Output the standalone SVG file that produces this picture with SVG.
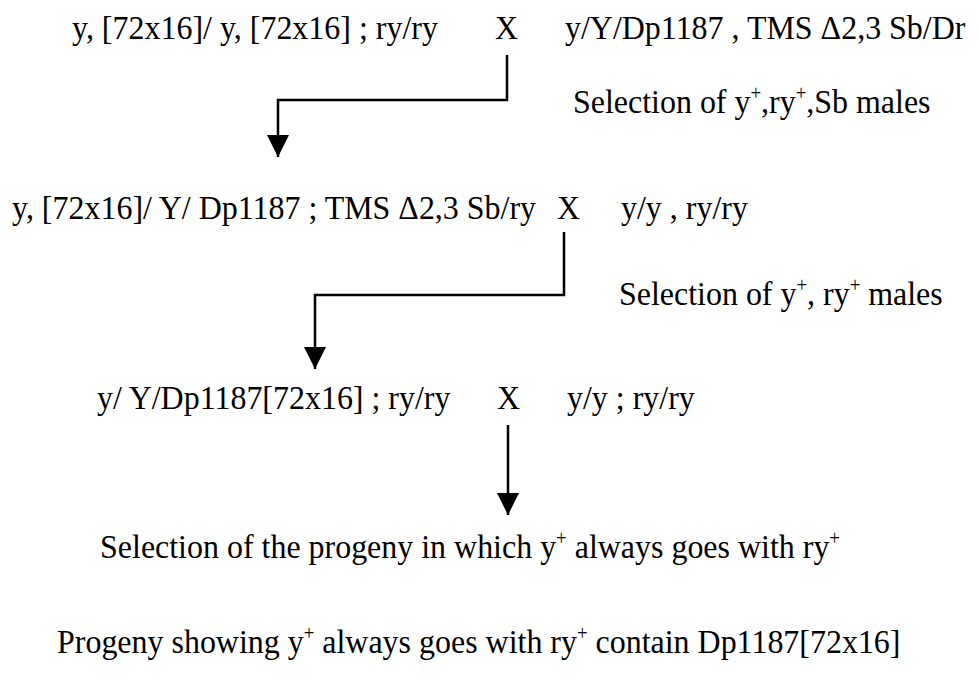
<svg xmlns="http://www.w3.org/2000/svg" width="978" height="681" viewBox="0 0 978 681">
  <style>
    /* tall, slightly narrow Times-style lettering: 34px glyphs squeezed to 94% width */
    .t { font-family: "Liberation Serif", "Times New Roman", serif; font-size: 34px; fill: #000; }
    .sup { font-size: 20px; }
    .wire { fill: none; stroke: #000; stroke-width: 2.5; }
  </style>
  <defs>
    <!-- solid downward arrowhead; its tip sits on the path end -->
    <marker id="head" viewBox="0 0 22 22" refX="11" refY="22" markerWidth="22" markerHeight="22" markerUnits="userSpaceOnUse" orient="0">
      <polygon points="0,0 22,0 11,22" fill="#000"/>
    </marker>
  </defs>
  <rect width="978" height="681" fill="#fff"/>

  <!-- cross 1 -->
  <g id="cross1">
    <text class="t" transform="translate(72 39) scale(0.94 1)">y, [72x16]/ y, [72x16] ; ry/ry</text>
    <text class="t" transform="translate(495 39) scale(0.94 1)">X</text>
    <text class="t" transform="translate(565 39) scale(0.94 1)">y/Y/Dp1187 , TMS Δ2,3 Sb/Dr</text>
  </g>
  <g id="select1">
    <text class="t" transform="translate(573 113) scale(0.94 1)">Selection of y<tspan class="sup" dy="-13">+</tspan><tspan dy="13">,ry</tspan><tspan class="sup" dy="-13">+</tspan><tspan dy="13">,Sb males</tspan></text>
  </g>

  <!-- cross 2 -->
  <g id="cross2">
    <text class="t" transform="translate(12 219) scale(0.94 1)">y, [72x16]/ Y/ Dp1187 ; TMS Δ2,3 Sb/ry</text>
    <text class="t" transform="translate(557 219) scale(0.94 1)">X</text>
    <text class="t" transform="translate(621 219) scale(0.94 1)">y/y , ry/ry</text>
  </g>
  <g id="select2">
    <text class="t" transform="translate(619 305) scale(0.94 1)">Selection of y<tspan class="sup" dy="-13">+</tspan><tspan dy="13">, ry</tspan><tspan class="sup" dy="-13">+</tspan><tspan dy="13"> males</tspan></text>
  </g>

  <!-- cross 3 -->
  <g id="cross3">
    <text class="t" transform="translate(97 409) scale(0.94 1)">y/ Y/Dp1187[72x16] ; ry/ry</text>
    <text class="t" transform="translate(497 409) scale(0.94 1)">X</text>
    <text class="t" transform="translate(567 409) scale(0.94 1)">y/y ; ry/ry</text>
  </g>
  <g id="select3">
    <text class="t" text-anchor="middle" transform="translate(470 558) scale(0.94 1)">Selection of the progeny in which y<tspan class="sup" dy="-13">+</tspan><tspan dy="13"> always goes with ry</tspan><tspan class="sup" dy="-13">+</tspan></text>
  </g>
  <g id="result">
    <text class="t" transform="translate(57 653) scale(0.94 1)">Progeny showing y<tspan class="sup" dy="-13">+</tspan><tspan dy="13"> always goes with ry</tspan><tspan class="sup" dy="-13">+</tspan><tspan dy="13"> contain Dp1187[72x16]</tspan></text>
  </g>

  <!-- connectors -->
  <g id="connectors">
    <path class="wire" d="M507 55 V100 H278 V157" marker-end="url(#head)"/>
    <path class="wire" d="M564 232 V295 H315 V369" marker-end="url(#head)"/>
    <path class="wire" d="M508 425 V515" marker-end="url(#head)"/>
  </g>
</svg>
